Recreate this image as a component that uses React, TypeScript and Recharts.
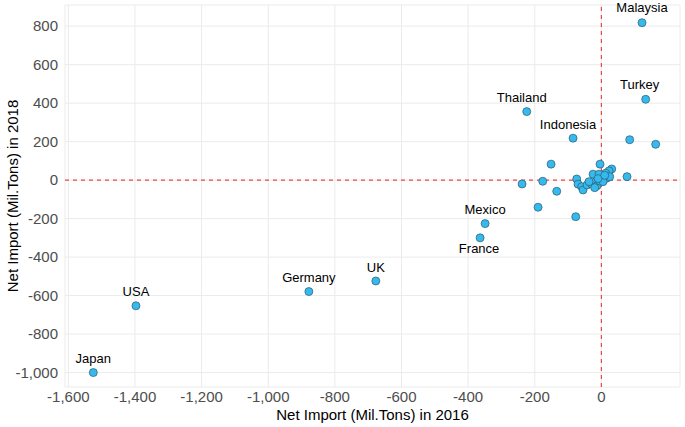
import {
  CartesianGrid,
  ReferenceLine,
  Scatter,
  ScatterChart,
  XAxis,
  YAxis,
} from "recharts";

// net import, million tons: x = 2016, y = 2018
const NAMES = [
  "Japan", "USA", "Germany", "UK", "Mexico", "France",
  "Thailand", "Indonesia", "Malaysia", "Turkey",
  "", "", "", "", "", "", "", "", "", "", "", "", "", "", "", "",
  "", "", "", "", "", "", "", "", "", "", "", "", "", "", "", "",
];
const X_2016 = [
  -1525, -1397, -878, -677, -349, -364, -224, -85, 122, 133,
  85, 163, -151, -238, -176, -134, -190, -77, -74, -4, 31, 23, 13, -25, 4, 16,
  25, -70, -59, -55, -43, -29, -17, -13, -5, 5, -20, 77, -37, -7, -10, 10,
];
const Y_2018 = [
  -1000, -653, -579, -524, -226, -300, 356, 218, 818, 420,
  210, 186, 83, -20, -6, -58, -141, -190, 6, 83, 58, 48, 36, 31, 18, 10,
  18, -21, -34, -51, -25, -21, -8, -29, -4, -8, -39, 18, -8, 31, 8, 25,
];

const X_TICKS = [-1600, -1400, -1200, -1000, -800, -600, -400, -200, 0];
const Y_TICKS = [-1000, -800, -600, -400, -200, 0, 200, 400, 600, 800];

// label nudges in px (default: centred, 14px above the point)
const LABEL_NUDGE: Record<string, [number, number]> = {
  France: [-1, 25],
  Thailand: [-5, 0],
  Indonesia: [-5, 0],
  Malaysia: [0, -1.5],
  Turkey: [-6, -1],
};

const FONT = "'Liberation Sans', Arial, Helvetica, sans-serif";

const data = NAMES.map((name, i) => ({ name, x: X_2016[i], y: Y_2018[i] }));

const fmt = (v: number) => v.toLocaleString("en-US");

function Dot(props: any) {
  const { cx, cy, payload } = props;
  const name: string = payload?.name ?? "";
  const [dx, dy] = LABEL_NUDGE[name] ?? [0, 0];
  return (
    <g>
      <circle
        cx={cx}
        cy={cy}
        r={4}
        fill="#36BAEE"
        stroke="#2b5a70"
        strokeWidth={0.7}
      />
      {name && (
        <text
          x={cx + dx}
          y={cy - 14 + dy}
          dy="0.35em"
          textAnchor="middle"
          fontSize={13}
          fill="#000"
          fontFamily={FONT}
        >
          {name}
        </text>
      )}
    </g>
  );
}

export default function App() {
  return (
    <div style={{ position: "absolute", left: 0, top: 0, background: "#fff" }}>
      <ScatterChart
        width={685}
        height={427}
        margin={{ top: 5, right: 5, bottom: 0, left: 0 }}
        style={{ fontFamily: FONT }}
      >
        <CartesianGrid stroke="#ebebeb" strokeWidth={1} />
        <XAxis
          type="number"
          dataKey="x"
          domain={[-1610, 236]}
          ticks={X_TICKS}
          tickFormatter={fmt}
          axisLine={false}
          tickLine={false}
          tickSize={0}
          tickMargin={4}
          height={40}
          tick={{ fontSize: 15, fill: "#4d4d4d" }}
          label={({ viewBox }: any) => (
            <text
              x={viewBox.x + viewBox.width / 2}
              y={415}
              dy="0.35em"
              textAnchor="middle"
              fontSize={15}
              fill="#000"
              fontFamily={FONT}
            >
              Net Import (Mil.Tons) in 2016
            </text>
          )}
        />
        <YAxis
          type="number"
          dataKey="y"
          domain={[-1075, 910]}
          ticks={Y_TICKS}
          tickFormatter={fmt}
          axisLine={false}
          tickLine={false}
          tickSize={0}
          tickMargin={7}
          width={65}
          tick={{ fontSize: 15, fill: "#4d4d4d" }}
          label={({ viewBox }: any) => {
            const cy = viewBox.y + viewBox.height / 2;
            return (
              <text
                x={13}
                y={cy}
                dy="0.35em"
                textAnchor="middle"
                fontSize={15}
                fill="#000"
                fontFamily={FONT}
                transform={`rotate(-90 13 ${cy})`}
              >
                Net Import (Mil.Tons) in 2018
              </text>
            );
          }}
        />
        <ReferenceLine x={0} stroke="#ef4444" strokeDasharray="4 4" strokeWidth={1.2} />
        <ReferenceLine y={0} stroke="#ef4444" strokeDasharray="4 4" strokeWidth={1.2} />
        <Scatter data={data} shape={Dot} isAnimationActive={false} />
      </ScatterChart>
    </div>
  );
}
